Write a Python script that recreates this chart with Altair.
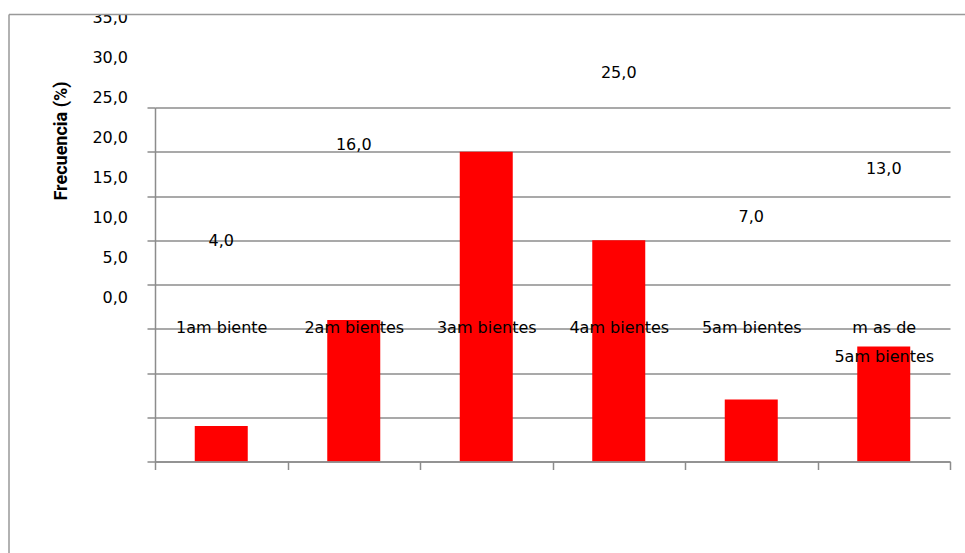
import altair as alt
import pandas as pd

# Categorías, frecuencias (%) y marcas del eje vertical
categorias = ["1am biente", "2am bientes", "3am bientes", "4am bientes",
              "5am bientes", "m as de\n5am bientes"]
frecuencia = [4.0, 16.0, 35.0, 25.0, 7.0, 13.0]
marcas_eje = [0, 5, 10, 15, 20, 25, 30, 35]
marcas_rejilla = [0, 5, 10, 15, 20, 25, 30, 35, 40]

df = pd.DataFrame({"ambientes": categorias, "frecuencia": frecuencia})
ejes = pd.DataFrame({"valor": marcas_eje})
uno = pd.DataFrame({"k": [0]})

GRIS = "#8c8c8c"
FUENTE = "DejaVu Sans"
TAM = 16
coma = "replace(format(datum.{}, '.1f'), '.', ',')"

x_enc = alt.X(
    "ambientes:N",
    sort=categorias,
    scale=alt.Scale(paddingInner=0, paddingOuter=0),
    axis=alt.Axis(
        title=None, labelAngle=0, labelPadding=-150, labelBaseline="top",
        labelExpr="split(datum.label, '\\n')", labelLineHeight=29,
        tickBand="extent", tickSize=8, tickColor=GRIS, tickWidth=1.5,
        domainColor=GRIS, domainWidth=1.5, labelOverlap=False, labelFlush=False,
        labelFont=FUENTE, labelFontSize=TAM, labelColor="black", grid=False,
        zindex=1,
    ),
)

barras = alt.Chart(df).mark_bar(
    color="#ff0000", width=alt.RelativeBandSize(0.4)
).encode(
    x=x_enc,
    y=alt.Y(
        "frecuencia:Q",
        scale=alt.Scale(domain=[0, 40]),
        axis=alt.Axis(
            values=marcas_rejilla, labels=False, grid=True, gridColor=GRIS,
            gridWidth=1.5, gridOpacity=1, domainColor=GRIS, domainWidth=1.5,
            tickColor=GRIS, tickWidth=1.5, tickSize=8,
            title="Frecuencia (%)", titleX=-94, titleY=33, titleAngle=-90,
            titleAlign="center", titleBaseline="middle",
            titleFont="Roboto", titleFontSize=18,
            titleFontWeight="bold", titleColor="black", zindex=0,
        ),
    ),
)

# Escala de los rótulos (eje y etiquetas de valor)
escala_rotulos = alt.Scale(domain=[0, 40], range=[190, -130])

rotulos_eje = alt.Chart(ejes).transform_calculate(
    txt=coma.format("valor")
).mark_text(
    align="right", baseline="middle", font=FUENTE, fontSize=TAM, color="black"
).encode(
    x=alt.value(-27),
    y=alt.Y("valor:Q", scale=escala_rotulos, axis=None),
    text="txt:N",
)

# La etiqueta de 35,0 cae por encima del borde superior y no se dibuja
etiquetas = alt.Chart(df).transform_filter(
    "datum.frecuencia <= 30"
).transform_calculate(
    txt=coma.format("frecuencia")
).mark_text(
    align="center", baseline="middle", dy=-25, font=FUENTE, fontSize=TAM,
    color="black"
).encode(
    x=x_enc,
    y=alt.Y("frecuencia:Q", scale=escala_rotulos, axis=None),
    text="txt:N",
)

# Marco exterior del gráfico
cubierta = alt.Chart(uno).mark_rect(color="white").encode(
    x=alt.value(-155), x2=alt.value(810), y=alt.value(-108), y2=alt.value(-93)
)
marco_izq = alt.Chart(uno).mark_rule(color="#999999", strokeWidth=1.5).encode(
    x=alt.value(-146), y=alt.value(-93), y2=alt.value(446)
)
marco_sup = alt.Chart(uno).mark_rule(color="#999999", strokeWidth=1.5).encode(
    x=alt.value(-146), x2=alt.value(820), y=alt.value(-93)
)

chart = alt.layer(
    barras, rotulos_eje, etiquetas, cubierta, marco_izq, marco_sup
).resolve_scale(
    y="independent"
).properties(
    width=795,
    height=354,
    autosize=alt.AutoSizeParams(type="none"),
    padding={"left": 155, "top": 107.5, "right": 15, "bottom": 91.5},
    background="white",
).configure_view(stroke=None)

chart.save("out.html", embed_options={"renderer": "svg", "actions": False})
